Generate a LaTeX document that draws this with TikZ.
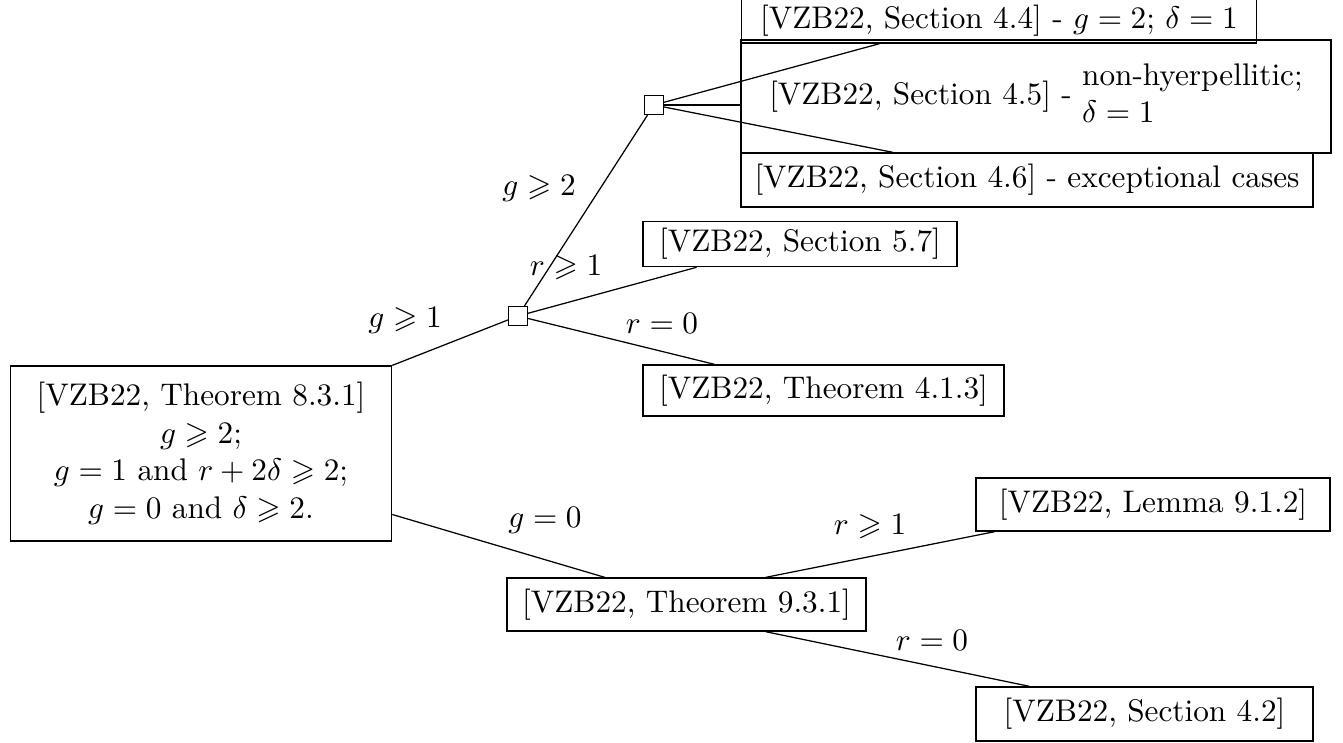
\documentclass[tikz,border=0pt]{standalone}
\usepackage{amssymb}
\usepackage{tikz}
\usetikzlibrary{calc}

\begin{document}
\begin{tikzpicture}[x=0.32pt,y=-0.32pt,
	ref/.style={draw, inner sep=2pt},
	split/.style={draw, minimum size=6pt, inner sep=0pt}]
	\useasboundingbox (0,0) rectangle (1343,742);
	%root and the two branch points
	\node[ref, align=center, minimum width=122pt, minimum height=56pt] (root) at (201,453.5)
		{[VZB22, Theorem 8.3.1]\\ $g\geqslant 2$;\\ $g=1$ and $r+2\delta\geqslant 2$;\\ $g=0$ and $\delta\geqslant 2$.};
	\node[split] (sq1) at (518,316) {};
	\node[split] (sq2) at (654,105) {};
	
	\node[ref, minimum width=165pt, minimum height=12.8pt] (b44) at (999,21) {[VZB22, Section 4.4] - $g=2$; $\delta=1$};
	\node[ref, minimum width=188.8pt, minimum height=36.2pt] (b45) at (1036,96.5)
		{[VZB22, Section 4.5] - \begin{tabular}{@{}l@{}}non-hyerpellitic;\\ $\delta=1$\end{tabular}};
	\node[ref, minimum width=183pt, minimum height=17.3pt] (b46) at (1027,180) {[VZB22, Section 4.6] - exceptional cases};
	\node[ref, minimum width=100.5pt, minimum height=14.5pt] (b57) at (800,244) {[VZB22, Section 5.7]};
	\node[ref, minimum width=115.5pt, minimum height=16.3pt] (b413) at (823.5,390.5) {[VZB22, Theorem 4.1.3]};
	\node[ref, minimum width=114.9pt, minimum height=17pt] (b931) at (686.5,604.5) {[VZB22, Theorem 9.3.1]};
	\node[ref, minimum width=113.3pt, minimum height=17pt] (b912) at (1153,504.5) {[VZB22, Lemma 9.1.2]};
	\node[ref, minimum width=107.8pt, minimum height=17.3pt] (b42) at (1144.5,714) {[VZB22, Section 4.2]};
	
	\draw (root.north east) -- (sq1);
	\draw ($(root.north east)!.846!(root.south east)$) -- ($(b931.north west)!.273!(b931.north east)$);
	\draw (sq1) -- (sq2);
	\draw (sq1) -- ($(b57.south west)!.172!(b57.south east)$);
	\draw (sq1) -- ($(b413.north west)!.2!(b413.north east)$);
	\draw (sq2) -- ($(b44.south west)!.27!(b44.south east)$);
	\draw (sq2) -- (sq2 -| b45.west);
	\draw (sq2) -- ($(b46.north west)!.266!(b46.north east)$);
	\draw ($(b931.north west)!.72!(b931.north east)$) -- ($(b912.south west)!.054!(b912.south east)$);
	\draw ($(b931.south west)!.72!(b931.south east)$) -- ($(b42.north west)!.16!(b42.north east)$);
	
	\node (l1) at (405,320) {$g\geqslant 1$};
	\node (l2) at (539,188) {$g\geqslant 2$};
	\node (l3) at (566,268) {$r\geqslant 1$};
	\node (l4) at (662,323) {$r=0$};
	\node (l5) at (545,520) {$g=0$};
	\node (l6) at (870,527) {$r\geqslant 1$};
	\node (l7) at (932,640) {$r=0$};
\end{tikzpicture}
\end{document}
